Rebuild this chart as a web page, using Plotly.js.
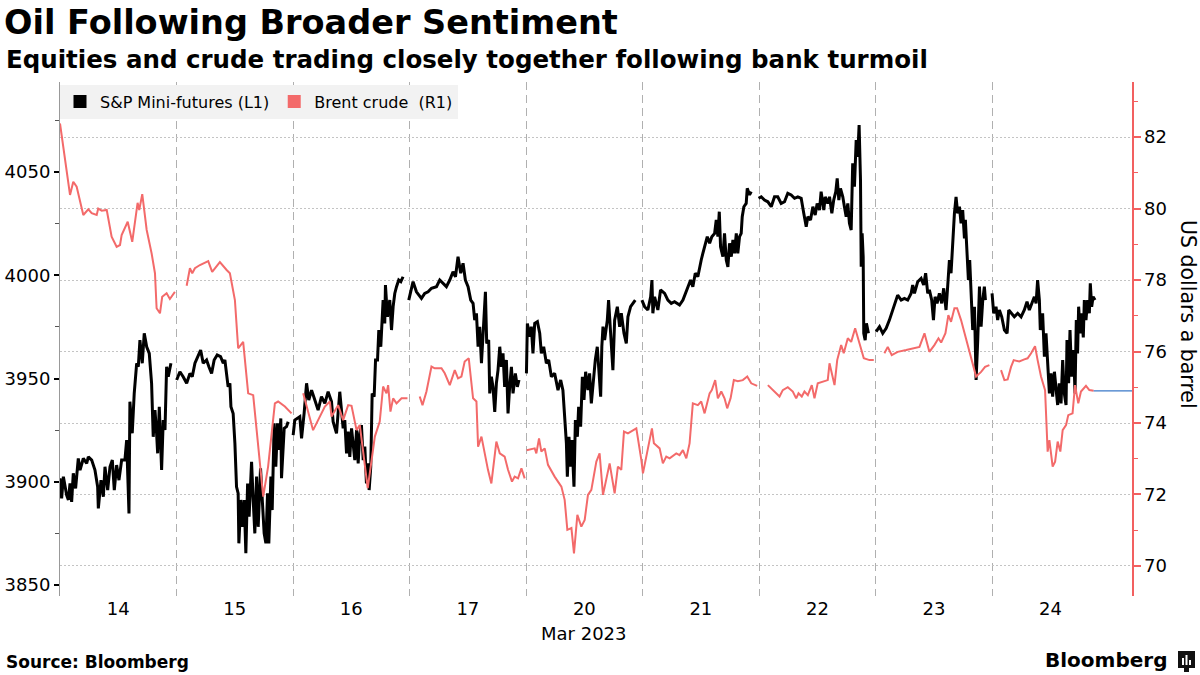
<!DOCTYPE html>
<html>
<head>
<meta charset="utf-8">
<script src="https://cdn.plot.ly/plotly-3.0.1.min.js"></script>
<style>html,body{margin:0;padding:0;background:#fff;}#chart{width:1200px;height:675px;}</style>
</head>
<body>
<div id="chart"></div>
<script>
// Trading-day labels (one slot per trading session, weekends skipped)
const dayLabels = ['14','15','16','17','20','21','22','23','24'];
const monthLabel = 'Mar 2023';

// S&P Mini-futures: time in trading days since Mar 14 open (null = session break)
const spTime = [
0,0.014,0.029,0.057,0.072,0.086,0.1,0.114,0.134,0.157,0.172,0.2,0.229,0.243,0.272,0.3,0.323,0.329,0.352,0.372,0.386,0.409,0.429,0.449,0.466,0.486,0.506,0.529,0.557,0.572,0.592,0.6,0.62,0.637,0.658,0.672,0.686,0.706,0.723,0.744,0.766,0.786,0.8,0.815,0.829,0.838,0.852,0.872,0.886,0.901,0.915,0.929,0.952,null,
1.001,1.029,1.057,1.087,1.115,1.135,1.158,1.186,1.207,1.229,1.258,1.278,1.301,1.323,1.349,1.378,1.401,1.415,1.43,1.443,1.458,1.467,1.486,1.501,1.515,1.529,1.535,1.552,1.567,1.581,1.595,1.61,1.623,1.644,1.658,1.672,1.687,1.701,1.721,1.735,1.752,1.767,1.781,1.792,1.81,1.821,1.838,1.852,1.867,1.881,1.895,1.901,1.924,1.944,1.958,null,
2.001,2.015,2.058,2.073,2.095,2.116,2.135,2.159,2.187,2.215,2.244,2.273,2.301,2.33,2.344,2.373,2.401,2.416,2.43,2.444,2.459,2.473,2.487,2.502,2.516,2.53,2.545,2.559,2.573,2.587,2.602,2.616,2.63,2.644,2.653,2.667,2.679,2.696,2.708,2.725,2.736,2.753,2.773,2.787,2.793,2.81,2.83,2.845,2.859,2.873,2.888,2.907,2.925,2.944,null,
2.993,3.01,3.03,3.059,3.102,3.13,3.159,3.188,3.231,3.259,3.287,3.316,3.345,3.373,3.394,3.416,3.439,3.459,3.479,3.502,3.525,3.545,3.559,3.574,3.588,3.602,3.617,3.639,3.651,3.662,3.679,3.688,3.702,3.716,3.731,3.745,3.759,3.774,3.788,3.802,3.816,3.831,3.845,3.859,3.874,3.888,3.908,3.925,3.939,null,
4.003,4.011,4.031,4.045,4.059,4.074,4.097,4.117,4.131,4.151,4.174,4.194,4.217,4.245,4.274,4.297,4.316,4.331,4.346,4.354,4.368,4.383,4.394,4.411,4.423,4.44,4.451,4.468,4.483,4.497,4.511,4.531,4.545,4.56,4.574,4.594,4.611,4.625,4.64,4.65,4.66,4.674,4.697,4.708,4.726,4.745,4.76,4.783,4.803,4.817,4.84,4.86,4.874,4.897,4.917,4.937,null,
4.994,5.017,5.045,5.069,5.08,5.088,5.103,5.131,5.154,5.189,5.217,5.246,5.274,5.317,5.346,5.366,5.388,5.412,5.431,5.452,5.474,5.489,5.503,5.517,5.532,5.555,5.575,5.594,5.618,5.632,5.646,5.658,5.669,5.689,5.703,5.718,5.732,5.746,5.761,5.775,5.789,5.804,5.817,5.832,5.846,5.855,5.869,5.889,5.898,5.918,5.932,null,
5.995,6.018,6.046,6.075,6.104,6.132,6.16,6.189,6.218,6.246,6.275,6.304,6.332,6.361,6.383,6.404,6.418,6.441,6.461,6.481,6.498,6.518,6.532,6.555,6.567,6.589,6.604,6.624,6.64,6.658,6.67,6.684,6.698,6.718,6.732,6.747,6.761,6.775,6.79,6.803,6.818,6.833,6.846,6.858,6.87,6.876,6.884,6.893,6.898,6.91,6.921,6.938,null,
7.004,7.033,7.061,7.09,7.118,7.138,7.161,7.189,7.219,7.247,7.275,7.304,7.318,7.333,7.361,7.39,7.412,7.429,7.447,7.461,7.481,7.496,7.51,7.527,7.547,7.567,7.584,7.604,7.618,7.633,7.647,7.661,7.676,7.69,7.704,7.719,7.733,7.747,7.762,7.77,7.785,7.796,7.807,7.819,7.833,7.848,7.862,7.876,7.891,7.905,7.919,7.933,7.942,null,
7.999,8.013,8.033,8.047,8.062,8.082,8.105,8.128,8.142,8.162,8.19,8.219,8.248,8.276,8.299,8.319,8.339,8.362,8.377,8.39,8.405,8.413,8.433,8.448,8.462,8.476,8.491,8.505,8.519,8.534,8.548,8.562,8.576,8.591,8.605,8.619,8.634,8.642,8.656,8.668,8.682,8.699,8.711,8.722,8.733,8.742,8.756,8.768,8.782,8.791,8.805,8.819,8.834,8.842,8.854,8.866,8.883
];
const spLevel = [
3901.7,3892.0,3902.5,3893.6,3891.2,3899.2,3890.3,3904.1,3896.8,3911.3,3905.7,3911.3,3908.9,3912.1,3910.5,3905.7,3897.6,3887.1,3900.8,3892.8,3907.3,3896.0,3907.3,3910.5,3896.0,3908.1,3900.8,3910.5,3910.5,3920.2,3884.7,3938.8,3923.5,3942.8,3957.4,3955.7,3968.6,3957.4,3971.9,3965.4,3962.2,3947.7,3921.8,3934.7,3923.5,3913.8,3936.3,3905.7,3929.9,3925.1,3955.7,3950.9,3957.4,null,
3949.3,3953.3,3950.9,3947.7,3952.5,3950.9,3957.4,3960.6,3963.8,3957.4,3959.0,3955.7,3952.5,3959.0,3961.4,3960.6,3957.4,3959.0,3950.9,3946.0,3947.7,3936.3,3933.1,3918.6,3897.6,3894.4,3870.2,3891.2,3878.2,3891.2,3865.4,3899.2,3883.1,3909.7,3891.2,3875.0,3902.5,3878.2,3906.5,3892.8,3875.0,3870.2,3894.4,3870.2,3902.5,3886.3,3928.3,3907.3,3928.3,3915.4,3930.7,3901.7,3925.9,3926.7,3929.1,null,
3922.6,3929.9,3931.5,3921.0,3933.1,3947.7,3939.6,3944.4,3939.6,3934.7,3941.2,3938.0,3943.6,3938.8,3929.1,3923.5,3943.6,3934.7,3925.9,3929.9,3913.8,3924.3,3912.1,3925.9,3918.6,3910.5,3925.1,3908.9,3923.5,3927.5,3910.5,3917.0,3899.2,3908.9,3896.0,3907.3,3942.8,3941.2,3959.0,3959.0,3973.5,3965.4,3988.0,3976.7,3995.3,3979.9,3988.0,3973.5,3984.8,3991.2,3994.5,3997.7,3996.9,3999.3,null,
3988.0,3992.9,3996.9,3992.0,3988.8,3991.2,3992.0,3993.7,3994.5,3997.7,3996.1,3994.5,3997.7,4001.7,3999.3,4009.0,4001.0,4005.8,3997.7,3994.5,3988.0,3986.4,3978.3,3981.6,3965.4,3975.1,3957.4,3981.6,3992.0,3967.0,3968.6,3942.8,3950.9,3946.0,3933.9,3947.7,3954.1,3965.4,3955.7,3962.2,3946.0,3959.0,3933.1,3946.0,3955.7,3942.8,3952.5,3946.0,3949.3,null,
3952.5,3976.7,3970.2,3975.1,3962.2,3976.7,3977.5,3971.9,3962.2,3965.4,3957.4,3959.0,3950.9,3952.5,3944.4,3949.3,3944.4,3933.1,3918.6,3902.5,3921.8,3907.3,3920.2,3897.6,3929.9,3921.8,3936.3,3926.7,3950.9,3939.6,3953.3,3944.4,3952.5,3938.0,3947.7,3959.0,3965.4,3955.7,3941.2,3965.4,3975.1,3968.6,3978.3,3988.0,3971.9,3954.1,3978.3,3984.8,3975.1,3981.6,3971.9,3967.0,3979.9,3984.8,3986.4,3988.0,null,
3988.0,3984.8,3983.2,3989.6,3997.7,3981.6,3989.6,3983.2,3992.9,3991.2,3988.0,3986.4,3987.2,3985.6,3988.0,3991.2,3994.5,3997.7,3994.5,4001.0,3999.3,4004.1,4007.4,4010.6,4013.8,4018.7,4015.5,4018.7,4020.3,4026.8,4018.7,4030.8,4013.8,4009.0,4020.3,4007.4,4004.1,4015.5,4009.0,4017.1,4010.6,4020.3,4010.6,4018.7,4020.3,4028.4,4033.2,4034.8,4042.1,4038.9,4040.5,null,
4037.3,4038.0,4036.4,4035.6,4033.2,4038.0,4038.0,4034.8,4035.6,4039.7,4038.9,4037.3,4038.0,4037.3,4030.0,4023.5,4028.4,4026.8,4033.2,4029.2,4034.8,4031.6,4040.5,4031.6,4038.0,4034.8,4038.0,4030.0,4036.4,4040.5,4046.9,4036.4,4042.1,4038.0,4033.2,4028.4,4034.8,4025.2,4021.9,4054.2,4042.9,4065.5,4057.4,4072.8,4046.1,4004.1,4020.3,4009.0,3971.9,3968.6,3976.7,3971.9,null,
3972.7,3975.1,3971.9,3974.3,3978.3,3981.6,3986.4,3990.4,3988.0,3988.8,3988.0,3991.2,3995.3,3991.2,3996.9,3998.5,3995.3,4001.0,3991.2,3992.9,3988.0,3978.3,3989.6,3986.4,3991.2,3986.4,3993.7,3983.2,3994.5,4007.4,4001.0,4017.1,4030.0,4038.0,4030.0,4033.2,4025.2,4031.6,4017.9,4026.8,4009.0,3997.7,4007.4,3992.9,3973.5,3984.8,3949.3,3968.6,3994.5,3975.1,3988.0,3994.5,3988.0,null,
3991.2,3981.6,3984.8,3978.3,3983.2,3979.9,3973.5,3971.9,3983.2,3981.6,3979.9,3981.6,3979.9,3983.2,3987.2,3983.2,3986.4,3989.6,3986.4,3997.7,3988.0,3973.5,3981.6,3960.6,3971.9,3955.7,3942.8,3952.5,3941.2,3953.3,3944.4,3937.2,3947.7,3938.0,3959.0,3942.8,3937.2,3968.6,3947.7,3973.5,3950.9,3963.8,3942.8,3978.3,3962.2,3984.8,3971.9,3981.6,3969.9,3988.0,3978.3,3988.0,3981.6,3996.1,3984.8,3989.6,3988.0
];

// Brent crude, US dollars a barrel
const brentTime = [
0,0.086,0.114,0.143,0.2,0.243,0.272,0.315,0.328,0.358,0.401,0.443,0.486,0.515,0.529,0.581,0.62,0.666,0.68,0.706,0.744,0.786,0.815,0.829,0.858,0.877,0.915,0.943,0.986,null,
1.087,1.115,1.135,1.158,1.201,1.272,1.306,1.372,1.43,1.458,1.501,1.529,1.572,1.615,1.658,1.687,1.744,1.786,1.844,1.872,1.93,1.987,null,
2.087,2.13,2.172,2.215,2.273,2.316,2.33,2.387,2.43,2.473,2.502,2.545,2.573,2.641,2.702,2.744,2.773,2.802,2.816,2.836,2.859,2.888,2.931,2.982,null,
3.087,3.111,3.145,3.188,3.216,3.274,3.302,3.345,3.388,3.416,3.445,3.473,3.508,3.545,3.574,3.588,3.617,3.645,3.673,3.702,3.745,3.774,3.816,3.845,3.879,3.902,3.931,3.96,3.988,null,
4.005,4.074,4.088,4.111,4.131,4.16,4.188,4.245,4.303,4.331,4.354,4.389,4.411,4.44,4.474,4.503,4.531,4.56,4.603,4.631,4.66,4.717,4.76,4.788,4.817,4.84,4.874,4.946,4.989,
5.003,5.08,5.097,5.146,5.174,5.203,5.232,5.289,5.317,5.346,5.375,5.403,5.431,5.474,5.503,5.532,5.575,5.594,5.623,5.646,5.675,5.703,5.726,5.755,5.783,5.817,5.86,5.898,5.932,5.983,null,
6.075,6.117,6.175,6.203,6.246,6.289,6.318,6.338,6.366,6.389,6.418,6.452,6.475,6.503,6.561,6.589,6.604,6.647,6.67,6.704,6.726,6.761,6.79,6.824,6.861,6.898,6.947,6.984,null,
7.075,7.104,7.138,7.189,7.262,7.318,7.376,7.419,7.461,7.504,7.539,7.562,7.599,7.624,7.647,7.676,7.699,7.733,7.776,7.804,7.833,7.862,7.905,7.939,7.976,null,
8.076,8.105,8.133,8.162,8.185,8.233,8.276,8.304,8.334,8.368,8.39,8.419,8.454,8.476,8.491,8.519,8.54,8.562,8.585,8.605,8.634,8.653,8.69,8.711,8.739,8.762,8.805,8.834,8.871
];
const brentPrice = [
82.38,80.38,80.75,80.61,79.82,79.98,79.87,79.82,80.00,79.94,79.96,79.21,78.93,78.98,79.26,79.63,79.07,80.16,79.96,80.40,79.40,78.75,78.19,77.21,77.07,77.53,77.63,77.47,77.67,null,
77.84,78.33,78.19,78.33,78.42,78.53,78.23,78.50,78.28,78.19,77.44,76.09,76.27,74.83,74.78,73.80,71.94,72.78,74.55,74.60,74.46,74.27,null,
74.83,74.27,73.80,74.08,74.46,74.60,74.18,74.50,74.08,74.50,74.48,73.80,73.94,72.18,73.62,74.04,75.02,74.83,75.06,74.32,74.69,74.55,74.69,74.69,null,
74.74,74.50,74.88,75.58,75.53,75.53,75.39,75.06,75.48,75.25,75.30,75.72,75.81,74.69,74.60,73.34,73.62,73.15,72.69,72.31,73.48,73.15,73.06,72.69,72.36,72.50,72.45,72.73,72.45,null,
73.24,73.29,73.15,73.57,73.20,73.29,72.83,72.50,72.22,71.85,71.01,71.06,70.35,71.43,71.10,71.29,71.99,72.13,72.92,73.15,71.99,72.87,72.03,72.78,72.69,73.76,73.71,73.85,72.97,
72.59,73.85,73.43,73.29,72.87,73.06,73.01,73.15,73.10,73.24,73.01,73.43,74.55,74.50,74.60,74.27,74.83,74.92,75.20,74.69,74.88,74.69,74.41,74.69,75.20,75.17,75.20,75.30,75.11,75.04,null,
75.06,74.92,74.74,74.92,75.00,74.88,74.69,74.83,74.74,74.88,74.78,75.06,74.69,75.11,75.16,75.20,75.67,75.06,75.76,76.18,75.95,76.37,76.27,76.65,76.23,75.81,75.76,75.76,null,
75.95,76.13,75.90,75.99,76.04,76.09,76.13,76.51,75.99,76.18,76.37,76.25,76.51,77.02,76.83,77.21,77.21,76.88,76.37,76.04,75.67,75.30,75.43,75.57,75.62,null,
75.48,75.20,75.22,75.57,75.76,75.72,75.78,75.81,75.95,76.15,75.76,75.30,74.92,73.20,73.52,72.78,72.92,73.48,73.20,73.80,73.94,74.22,74.27,75.06,74.55,74.88,75.04,74.92,74.90
];

const spTicks = [3850, 3900, 3950, 4000, 4050];
const brentTicks = [70, 72, 74, 76, 78, 80, 82];

const BLACK = '#000000';
const RED = '#f36a6a';
const RED_AXIS = '#f26060';
const FONT = 'DejaVu Sans';
const X_END = 9.2;

const dayCenters = dayLabels.map((d, i) => i + 0.5);
const dayBounds = dayLabels.slice(1).map((d, i) => i + 1);

const lastIdx = brentPrice.length - 1;

const traces = [
  {x: spTime, y: spLevel, type: 'scatter', mode: 'lines', yaxis: 'y',
   line: {color: BLACK, width: 3}, connectgaps: false, showlegend: false, hoverinfo: 'skip'},
  {x: brentTime, y: brentPrice, type: 'scatter', mode: 'lines', yaxis: 'y2',
   line: {color: RED, width: 2}, connectgaps: false, showlegend: false, hoverinfo: 'skip'},
  {x: [brentTime[lastIdx], X_END], y: [brentPrice[lastIdx], brentPrice[lastIdx]], type: 'scatter', mode: 'lines', yaxis: 'y2',
   line: {color: '#3a78c8', width: 1.2}, showlegend: false, hoverinfo: 'skip'},
  // legend entries
  {x: [null], y: [null], type: 'scatter', mode: 'markers', name: 'S&P Mini-futures (L1)',
   marker: {symbol: 'square', size: 13, color: BLACK}},
  {x: [null], y: [null], type: 'scatter', mode: 'markers', name: 'Brent crude  (R1)', yaxis: 'y2',
   marker: {symbol: 'square', size: 13, color: RED}}
];

const PX = (px) => (px - 60) / 1072;
const PY = (py) => (596 - py) / 514;

const layout = {
  width: 1200, height: 675,
  margin: {l: 60, r: 68, t: 82, b: 79, pad: 0},
  paper_bgcolor: '#ffffff', plot_bgcolor: '#ffffff',
  font: {family: FONT, color: '#000', size: 18},
  title: {text: '<b>Oil Following Broader Sentiment</b>', font: {family: FONT, size: 33.5, color: '#000'},
          x: 4 / 1200, xref: 'container', xanchor: 'left', y: 1 - 22 / 675, yref: 'container', yanchor: 'middle'},
  showlegend: true,
  legend: {orientation: 'h', x: 0, y: 0.995, xanchor: 'left', yanchor: 'top', bgcolor: '#f2f2f2',
           font: {family: FONT, size: 16, color: '#000'}, itemwidth: 30, tracegroupgap: 0},
  xaxis: {
    range: [0, X_END], tickmode: 'array', tickvals: dayCenters, ticktext: dayLabels,
    ticks: '', showgrid: false, zeroline: false, showline: false, fixedrange: true,
    tickfont: {family: FONT, size: 18, color: '#000'},
    minor: {tickmode: 'array', tickvals: dayBounds, showgrid: true, gridcolor: '#b0b0b0', gridwidth: 1, griddash: '8px,5px', ticks: ''}
  },
  yaxis: {
    range: [3844.7, 4093.6], tickmode: 'array', tickvals: spTicks,
    ticks: 'outside', ticklen: 5, tickwidth: 2, tickcolor: '#000',
    showline: true, linecolor: '#999999', linewidth: 1,
    showgrid: false, zeroline: false,
    tickfont: {family: FONT, size: 18, color: '#000'},
    minor: {tickmode: 'linear', tick0: 3825, dtick: 25, ticks: 'outside', ticklen: 4, tickwidth: 1, tickcolor: '#555', showgrid: false}
  },
  yaxis2: {
    overlaying: 'y', side: 'right', range: [69.16, 83.54], tickmode: 'array', tickvals: brentTicks,
    ticks: 'outside', ticklen: 7, tickwidth: 2, tickcolor: RED_AXIS,
    showline: true, linecolor: RED_AXIS, linewidth: 1.5,
    showgrid: true, gridcolor: '#c4c4c4', gridwidth: 1, griddash: '2px,2px', zeroline: false,
    tickfont: {family: FONT, size: 18, color: '#000'},
    minor: {tickmode: 'linear', tick0: 69, dtick: 1, ticks: 'outside', ticklen: 4, tickwidth: 1, tickcolor: RED_AXIS, showgrid: false}
  },
  annotations: [
    {text: '<b>Equities and crude trading closely together following bank turmoil</b>', xref: 'paper', yref: 'paper',
     x: PX(4), y: PY(60), xanchor: 'left', yanchor: 'middle', showarrow: false,
     font: {family: FONT, size: 24.5, color: '#000'}},
    {text: 'US dollars a barrel', xref: 'paper', yref: 'paper', x: PX(1188), y: PY(314), xanchor: 'center', yanchor: 'middle',
     textangle: 90, showarrow: false, font: {family: FONT, size: 20.5, color: '#000'}},
    {text: monthLabel, xref: 'x', yref: 'paper', x: 4.5, y: PY(633), xanchor: 'center', yanchor: 'middle', showarrow: false,
     font: {family: FONT, size: 18, color: '#000'}},
    {text: '<b>Source: Bloomberg</b>', xref: 'paper', yref: 'paper', x: PX(4), y: PY(662), xanchor: 'left', yanchor: 'middle',
     showarrow: false, font: {family: FONT, size: 17, color: '#000'}},
    {text: '<b>Bloomberg</b>', xref: 'paper', yref: 'paper', x: PX(1169), y: PY(660), xanchor: 'right', yanchor: 'middle',
     showarrow: false, font: {family: FONT, size: 20, color: '#000'}}
  ],
  shapes: [
    {type: 'rect', xref: 'paper', yref: 'paper', x0: PX(1178), x1: PX(1195), y0: PY(668), y1: PY(651),
     fillcolor: '#111', line: {width: 0}},
    {type: 'rect', xref: 'paper', yref: 'paper', x0: PX(1182), x1: PX(1184), y0: PY(665), y1: PY(658),
     fillcolor: '#fff', line: {width: 0}},
    {type: 'rect', xref: 'paper', yref: 'paper', x0: PX(1185.5), x1: PX(1187.5), y0: PY(665), y1: PY(655),
     fillcolor: '#fff', line: {width: 0}},
    {type: 'rect', xref: 'paper', yref: 'paper', x0: PX(1189), x1: PX(1191), y0: PY(665), y1: PY(660),
     fillcolor: '#fff', line: {width: 0}},
    {type: 'rect', xref: 'paper', yref: 'paper', x0: PX(1184), x1: PX(1189), y0: PY(672), y1: PY(668),
     fillcolor: '#111', line: {width: 0}}
  ]
};

Plotly.newPlot('chart', traces, layout, {staticPlot: true, displayModeBar: false});
</script>
</body>
</html>
